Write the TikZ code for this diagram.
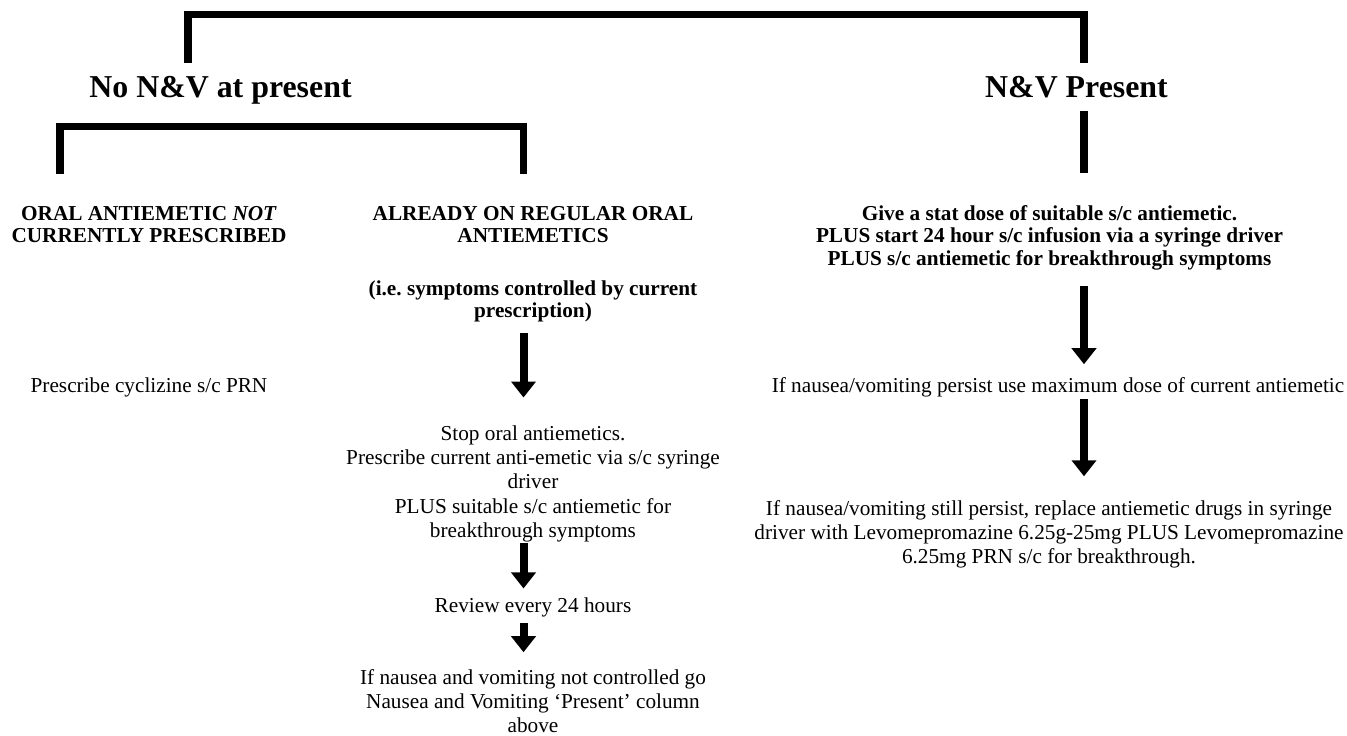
\documentclass[tikz,border=0pt]{standalone}
\usepackage{fontspec}
\setmainfont{Liberation Serif}
\frenchspacing
\usetikzlibrary{arrows.meta, calc}

\tikzset{
  bar/.style={line width=5.7pt},
  flowarrow/.style={line width=6pt, -{Triangle[width=18pt, length=12pt]}},
  heading/.style={font=\fontsize{23.9}{27}\selectfont\bfseries, anchor=base, inner sep=0pt},
  note/.style={font=\fontsize{15.94}{18.3}\selectfont, anchor=base, inner sep=0pt,
    text width=470pt, align=flush center},
  boldnote/.style={note, font=\fontsize{15.94}{17.2}\selectfont\bfseries},
}

\begin{document}
\begin{tikzpicture}[x=0.75pt, y=-0.75pt]
    \useasboundingbox (0,0) rectangle (1347,736);
    % Headings
    \node[heading] (nonv) at (220.5,97) {No N\&V at present};
    \node[heading] (nvp) at (1076.5,97) {N\&V Present};
    % Bracket corners
    \coordinate (top) at (1084,14.5);
    \coordinate (bl) at (60,126.5);
    \coordinate (br) at (523.5,126.5);
    % Left column
    \node[boldnote] (oral) at (149,220) {ORAL ANTIEMETIC \textit{NOT}\\CURRENTLY PRESCRIBED};
    \node[note] (cyc) at (149,392) {Prescribe cyclizine s/c PRN};
    % Middle column
    \node[boldnote] (already) at (533,220) {ALREADY ON REGULAR ORAL\\ANTIEMETICS};
    \node[boldnote] (ie) at (533,295) {(i.e. symptoms controlled by current\\prescription)};
    \node[note] (stop) at (533,440) {Stop oral antiemetics.\\Prescribe current anti-emetic via s/c syringe\\driver\\PLUS suitable s/c antiemetic for\\breakthrough symptoms};
    \node[note] (review) at (533,612) {Review every 24 hours};
    \node[note] (ifnot) at (533,684) {If nausea and vomiting not controlled go\\Nausea and Vomiting ‘Present’ column\\above};
    % Right column
    \node[boldnote] (give) at (1049.5,220) {Give a stat dose of suitable s/c antiemetic.\\PLUS start 24 hour s/c infusion via a syringe driver\\PLUS s/c antiemetic for breakthrough symptoms};
    \node[note] (persist) at (1058,392) {If nausea/vomiting persist use maximum dose of current antiemetic};
    \node[note] (still) at (1049,515) {If nausea/vomiting still persist, replace antiemetic drugs in syringe\\driver with Levomepromazine 6.25g-25mg PLUS Levomepromazine\\6.25mg PRN s/c for breakthrough.};
    % Brackets
    \draw[bar] ($(nonv.north)+(-32.5,-13)$) |- (top) -- ($(nvp.north -| top)+(0,-13)$);
    \draw[bar, shorten <=9.75pt, shorten >=23.5pt] (nvp.south -| top) -- (give.north -| top);
    \draw[bar, shorten <=23.6pt, shorten >=23.6pt] (bl |- oral.north) -- (bl) -- (br) -- (br |- already.north);
    % Arrows
    \draw[flowarrow, shorten <=7.8pt, shorten >=20.6pt] (ie.south -| br) -- (stop.north -| br);
    \draw[flowarrow, shorten <=0.5pt, shorten >=6.4pt] (stop.south -| br) -- (review.north -| br);
    \draw[flowarrow, shorten <=4.8pt, shorten >=12.4pt] (review.south -| br) -- (ifnot.north -| br);
    \draw[flowarrow, shorten <=11.7pt, shorten >=9.4pt] (give.south -| top) -- (persist.north -| top);
    \draw[flowarrow, shorten <=1.8pt, shorten >=17.6pt] (persist.south -| top) -- (still.north -| top);
\end{tikzpicture}
\end{document}
